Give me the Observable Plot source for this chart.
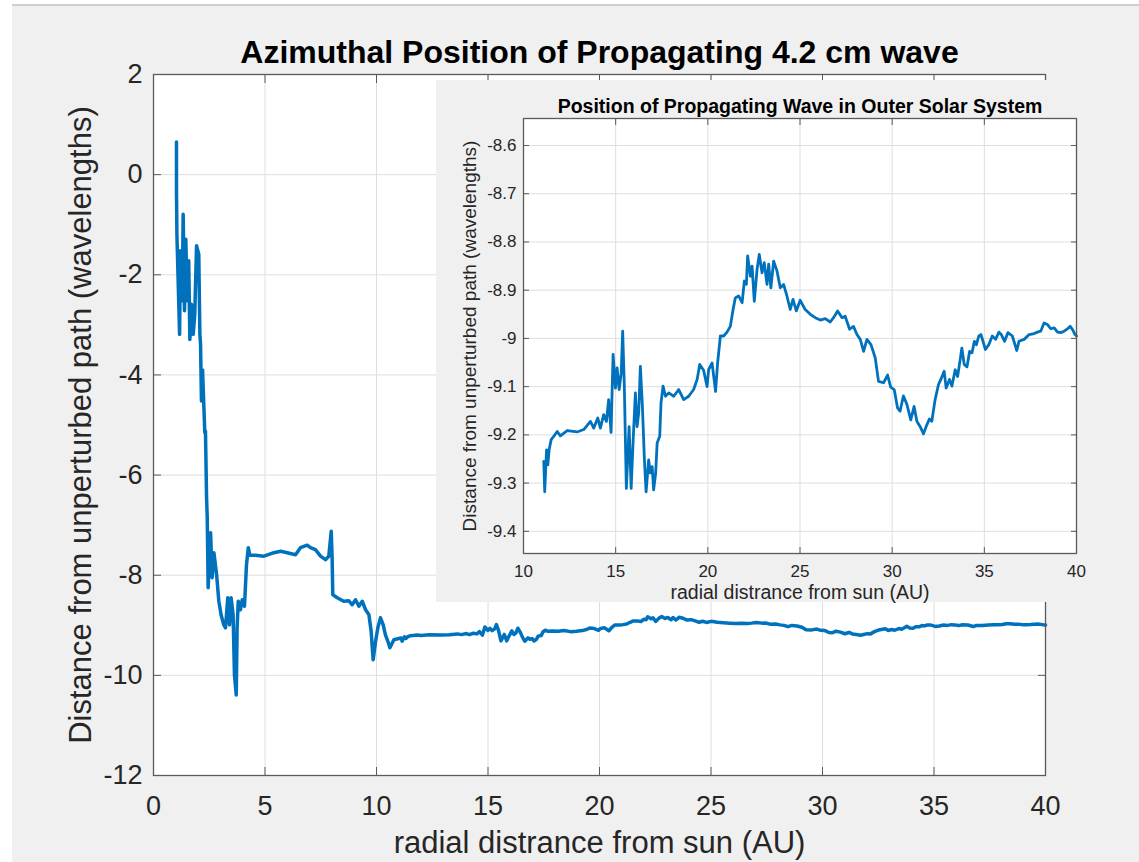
<!DOCTYPE html>
<html>
<head>
<meta charset="utf-8">
<script src="https://cdn.jsdelivr.net/npm/d3@7"></script>
<script src="https://cdn.jsdelivr.net/npm/@observablehq/plot@0.6"></script>
<style>
  html, body { margin: 0; padding: 0; background: #ffffff; }
  #page { position: relative; width: 1139px; height: 862px; overflow: hidden; }
  #figure { position: absolute; left: 12px; top: 4px; right: 0; bottom: 0; background: #f0f0f0; border-top: 2px solid #cfcfcf; }
  #main { position: absolute; left: 0; top: 0; }
  #insetPanel { position: absolute; left: 436px; top: 80px; width: 669px; height: 522px; background: #f0f0f0; }
  svg text { font-family: "Liberation Sans", Arial, Helvetica, sans-serif; }
</style>
</head>
<body>
<div id="page">
  <div id="figure"></div>
  <div id="main"></div>
  <div id="insetPanel"></div>
</div>
<script>
// Radial distance (AU) and offset from the unperturbed path (wavelengths), inner solar system
const innerRadius = [1.03, 1.03, 1.05, 1.17, 1.21, 1.29, 1.33, 1.39, 1.45, 1.51, 1.58, 1.63, 1.70, 1.78, 1.85, 1.93, 2.03, 2.08, 2.11, 2.15, 2.20, 2.26, 2.30, 2.33, 2.38, 2.41, 2.45, 2.56, 2.63, 2.71, 2.83, 2.93, 3.03, 3.15, 3.23, 3.33, 3.41, 3.48, 3.57, 3.63, 3.71, 3.75, 3.80, 3.90, 3.98, 4.08, 4.17, 4.25, 4.32, 4.57, 4.95, 5.40, 5.70, 6.00, 6.37, 6.59, 6.89, 7.04, 7.26, 7.49, 7.71, 7.86, 7.97, 8.01, 8.04, 8.24, 8.53, 8.76, 8.91, 9.06, 9.21, 9.36, 9.51, 9.66, 9.76, 9.85, 9.96, 10.06, 10.18, 10.30, 10.40, 10.51, 10.60, 10.78, 10.95];
const innerOffset = [0.65, -0.29, -1.2, -3.19, -1.52, -2.52, -0.79, -2.72, -1.29, -2.52, -1.72, -3.29, -2.59, -3.19, -2.79, -1.42, -1.59, -3.19, -3.39, -4.52, -3.9, -4.65, -5.15, -5.12, -6.45, -6.85, -8.25, -7.15, -8.05, -7.55, -7.99, -8.52, -8.79, -8.99, -9.05, -8.45, -8.99, -8.45, -8.79, -9.99, -10.39, -9.05, -8.52, -8.69, -8.49, -8.62, -7.79, -7.45, -7.6, -7.6, -7.62, -7.55, -7.52, -7.55, -7.59, -7.45, -7.4, -7.45, -7.49, -7.62, -7.69, -7.62, -7.12, -7.65, -8.39, -8.45, -8.52, -8.51, -8.59, -8.49, -8.62, -8.52, -8.69, -8.79, -9.12, -9.69, -9.32, -9.05, -8.85, -8.99, -9.19, -9.32, -9.45, -9.29, -9.27];

// Outer solar system (also shown in the inset)
const outerRadius = [11.10, 11.15, 11.25, 11.32, 11.39, 11.50, 11.64, 11.83, 12.00, 12.37, 12.91, 13.27, 13.63, 13.81, 14.03, 14.17, 14.35, 14.50, 14.62, 14.75, 14.86, 14.99, 15.08, 15.19, 15.30, 15.38, 15.47, 15.58, 15.73, 15.84, 15.95, 16.07, 16.16, 16.25, 16.34, 16.45, 16.56, 16.65, 16.79, 16.88, 16.98, 17.06, 17.17, 17.25, 17.39, 17.46, 17.57, 17.70, 17.88, 18.15, 18.42, 18.69, 18.96, 19.23, 19.42, 19.56, 19.77, 19.96, 20.04, 20.23, 20.42, 20.53, 20.68, 20.86, 21.04, 21.22, 21.37, 21.49, 21.67, 21.86, 21.98, 22.09, 22.16, 22.31, 22.40, 22.52, 22.67, 22.79, 22.94, 23.06, 23.21, 23.30, 23.42, 23.57, 23.75, 23.93, 24.11, 24.29, 24.47, 24.62, 24.80, 25.01, 25.28, 25.56, 25.83, 26.10, 26.37, 26.64, 26.82, 27.04, 27.28, 27.45, 27.69, 27.90, 28.09, 28.27, 28.45, 28.63, 28.85, 29.08, 29.26, 29.53, 29.75, 29.92, 30.11, 30.29, 30.43, 30.61, 30.80, 31.01, 31.19, 31.34, 31.52, 31.70, 31.84, 32.02, 32.15, 32.33, 32.51, 32.64, 32.82, 32.93, 33.11, 33.24, 33.42, 33.55, 33.69, 33.78, 33.91, 34.06, 34.20, 34.33, 34.46, 34.57, 34.70, 34.82, 35.06, 35.24, 35.43, 35.61, 35.79, 35.92, 36.10, 36.28, 36.52, 36.76, 36.88, 37.16, 37.43, 37.70, 37.88, 38.06, 38.24, 38.42, 38.60, 38.79, 38.97, 39.15, 39.33, 39.51, 39.66, 39.79, 39.92, 40.00];
const outerOffset = [-9.255, -9.318, -9.231, -9.262, -9.231, -9.210, -9.203, -9.193, -9.202, -9.191, -9.194, -9.189, -9.172, -9.186, -9.165, -9.186, -9.158, -9.172, -9.127, -9.195, -9.033, -9.103, -9.061, -9.106, -9.072, -8.985, -9.099, -9.311, -9.183, -9.311, -9.210, -9.113, -9.183, -9.155, -9.058, -9.141, -9.252, -9.318, -9.252, -9.279, -9.266, -9.314, -9.279, -9.217, -9.203, -9.134, -9.099, -9.120, -9.113, -9.120, -9.106, -9.127, -9.120, -9.106, -9.085, -9.054, -9.066, -9.100, -9.065, -9.051, -9.110, -9.051, -8.995, -8.995, -8.987, -8.975, -8.940, -8.916, -8.912, -8.926, -8.881, -8.888, -8.829, -8.871, -8.850, -8.923, -8.857, -8.826, -8.864, -8.843, -8.888, -8.846, -8.895, -8.840, -8.860, -8.895, -8.888, -8.912, -8.940, -8.919, -8.943, -8.921, -8.940, -8.950, -8.957, -8.962, -8.959, -8.966, -8.957, -8.943, -8.957, -8.954, -8.981, -8.975, -8.992, -9.002, -9.027, -9.002, -9.013, -9.040, -9.089, -9.092, -9.076, -9.101, -9.106, -9.144, -9.151, -9.119, -9.137, -9.169, -9.141, -9.172, -9.183, -9.198, -9.183, -9.167, -9.172, -9.127, -9.096, -9.085, -9.068, -9.103, -9.085, -9.099, -9.065, -9.079, -9.044, -9.020, -9.054, -9.059, -9.027, -9.030, -9.006, -9.013, -8.995, -8.992, -9.023, -9.013, -8.995, -9.002, -8.987, -8.992, -9.006, -8.988, -8.995, -9.025, -9.006, -9.002, -8.992, -8.990, -8.987, -8.985, -8.968, -8.971, -8.980, -8.978, -8.987, -8.988, -8.985, -8.980, -8.975, -8.982, -8.992, -8.995];

// Axis ticks
const mainXTicks = [0, 5, 10, 15, 20, 25, 30, 35, 40];
const mainYTicks = [-12, -10, -8, -6, -4, -2, 0, 2];
const insetXTicks = [10, 15, 20, 25, 30, 35, 40];
const insetYTicks = [-9.4, -9.3, -9.2, -9.1, -9.0, -8.9, -8.8, -8.7, -8.6];

// Texts
const mainTitle = "Azimuthal Position of Propagating 4.2 cm wave";
const insetTitle = "Position of Propagating Wave in Outer Solar System";
const xLabel = "radial distrance from sun (AU)";
const yLabel = "Distance from unperturbed path (wavelengths)";

// Tick labels with a plain hyphen and no trailing zeros
const fmt = d => String(Math.round(d * 10) / 10);

const ink = "#262626";
const waveBlue = "#0072BD";
const gridGray = "#dedede";
const boxGray = "#5a5a5a";
const font = '"Liberation Sans", Arial, Helvetica, sans-serif';

const toRows = (rs, ds) => rs.map((r, i) => ({r, d: ds[i]}));
const fullPath = toRows(innerRadius, innerOffset).concat(toRows(outerRadius, outerOffset));
const outerPath = toRows(outerRadius, outerOffset);

// Box with inward ticks on all four sides, plus outside tick labels
function boxAxes(xt, yt, tick, xPad, yPad, size) {
  return [
    Plot.frame({stroke: boxGray, strokeWidth: 1.3}),
    Plot.axisX(xt, {anchor: "bottom", tickSize: -tick, fill: "none", stroke: boxGray, label: null}),
    Plot.axisX(xt, {anchor: "top", tickSize: -tick, fill: "none", stroke: boxGray, label: null}),
    Plot.axisY(yt, {anchor: "left", tickSize: -tick, fill: "none", stroke: boxGray, label: null}),
    Plot.axisY(yt, {anchor: "right", tickSize: -tick, fill: "none", stroke: boxGray, label: null}),
    Plot.axisX(xt, {anchor: "bottom", tickSize: 0, tickPadding: xPad, tickFormat: fmt, fontSize: size, fill: ink, label: null}),
    Plot.axisY(yt, {anchor: "left", tickSize: 0, tickPadding: yPad, tickFormat: fmt, fontSize: size, fill: ink, label: null})
  ];
}

const main = Plot.plot({
  width: 1139,
  height: 862,
  marginLeft: 153,
  marginRight: 94,
  marginTop: 74,
  marginBottom: 87,
  style: {background: "transparent", fontFamily: font, color: ink, overflow: "visible"},
  x: {domain: [0, 40], label: null},
  y: {domain: [-12, 2], label: null},
  marks: [
    Plot.frame({fill: "white", stroke: null}),
    Plot.gridX(mainXTicks, {stroke: gridGray, strokeOpacity: 1}),
    Plot.gridY(mainYTicks, {stroke: gridGray, strokeOpacity: 1}),
    Plot.line(fullPath, {x: "r", y: "d", stroke: waveBlue, strokeWidth: 3.5, strokeLinejoin: "round"}),
    ...boxAxes(mainXTicks, mainYTicks, 8, 20, 11, 27),
    Plot.text([mainTitle], {text: d => d, frameAnchor: "top", dy: -12, lineAnchor: "bottom", fontSize: 32, fontWeight: "bold", fill: "#000"}),
    Plot.text([xLabel], {text: d => d, frameAnchor: "bottom", dy: 77, lineAnchor: "bottom", fontSize: 31, fill: ink}),
    Plot.text([yLabel], {text: d => d, frameAnchor: "left", dx: -63, rotate: -90, lineAnchor: "bottom", textAnchor: "middle", fontSize: 31, fill: ink})
  ]
});
document.getElementById("main").appendChild(main);

const inset = Plot.plot({
  width: 669,
  height: 522,
  marginLeft: 87,
  marginRight: 29,
  marginTop: 38,
  marginBottom: 49,
  style: {background: "transparent", fontFamily: font, color: ink, overflow: "visible"},
  x: {domain: [10, 40], label: null},
  y: {domain: [-9.446, -8.544], label: null},
  marks: [
    Plot.frame({fill: "white", stroke: null}),
    Plot.gridX(insetXTicks, {stroke: gridGray, strokeOpacity: 1}),
    Plot.gridY(insetYTicks, {stroke: gridGray, strokeOpacity: 1}),
    Plot.line(outerPath, {x: "r", y: "d", stroke: waveBlue, strokeWidth: 2.8, strokeLinejoin: "round"}),
    ...boxAxes(insetXTicks, insetYTicks, 6, 11, 7, 17),
    Plot.text([insetTitle], {text: d => d, frameAnchor: "top", dy: -6, lineAnchor: "bottom", fontSize: 19.5, fontWeight: "bold", fill: "#000"}),
    Plot.text([xLabel], {text: d => d, frameAnchor: "bottom", dy: 45, lineAnchor: "bottom", fontSize: 19.5, fill: ink}),
    Plot.text([yLabel], {text: d => d, frameAnchor: "left", dx: -48, rotate: -90, lineAnchor: "bottom", textAnchor: "middle", fontSize: 19, fill: ink})
  ]
});
document.getElementById("insetPanel").appendChild(inset);
</script>
</body>
</html>
